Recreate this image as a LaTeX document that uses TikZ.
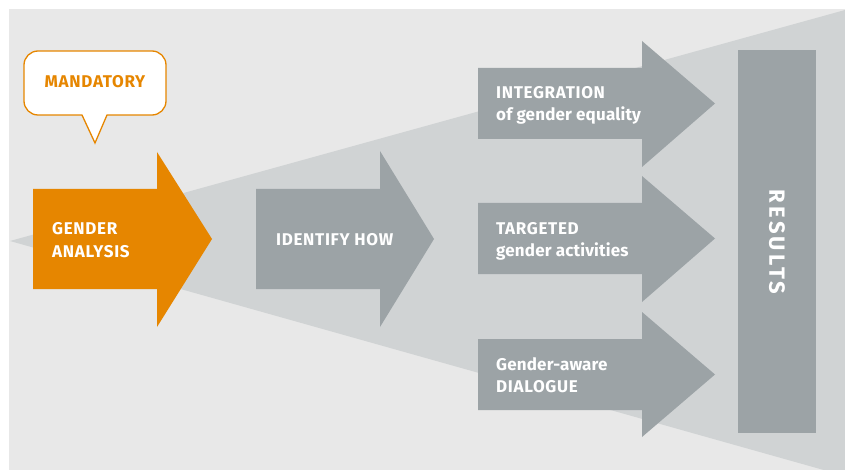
\documentclass[tikz,border=0pt]{standalone}
\usepackage{fontspec}
\setmainfont{Fira Sans}
\definecolor{bggrey}{HTML}{E8E8E8}
\definecolor{conegrey}{HTML}{D0D3D4}
\definecolor{arrowgrey}{HTML}{9CA3A6}
\definecolor{orangec}{HTML}{E68600}
\tikzset{
  lbl/.style={inner sep=0pt, anchor=base west, text=white, font=\fontsize{17}{20}\selectfont\bfseries\addfontfeatures{LetterSpace=4}},
  lowlbl/.style={lbl, font=\fontsize{17}{20}\selectfont\bfseries\addfontfeatures{LetterSpace=1}},
}
\begin{document}
\begin{tikzpicture}[x=1pt,y=-1pt]
\useasboundingbox (0,0) rectangle (845,470);
% background
\fill[bggrey] (9,9) rectangle (845,470);
\begin{scope}
\clip (9,9) rectangle (845,470);
\fill[conegrey] (10,241) -- (845,10) -- (845,476) -- cycle;
\end{scope}
% orange arrow
\fill[orangec] (33,189) -- (157,189) -- (157,152) -- (212,239) -- (157,327) -- (157,289) -- (33,289) -- cycle;
% identify arrow
\fill[arrowgrey] (256,189) -- (380,189) -- (380,151) -- (434,239) -- (380,327) -- (380,289) -- (256,289) -- cycle;
% right arrows
\fill[arrowgrey] (478,68) -- (642,68) -- (642,41) -- (715,103.5) -- (642,167) -- (642,139) -- (478,139) -- cycle;
\fill[arrowgrey] (478,203) -- (642,203) -- (642,176) -- (715,238.5) -- (642,302) -- (642,274) -- (478,274) -- cycle;
\fill[arrowgrey] (478,339) -- (642,339) -- (642,312) -- (715,374.5) -- (642,437) -- (642,410) -- (478,410) -- cycle;
% results
\fill[arrowgrey] (738,50) rectangle (816,433);
% bubble
\draw[fill=white, draw=orangec, line width=1.3pt, line join=miter]
  (95,143) -- (82,115) -- (60,115) [rounded corners=14]-- (24,115) -- (24,51) -- (166,51) -- (166,115) -- (130,115) [sharp corners]-- (107,115) -- cycle;
% texts
\node[lbl, anchor=base, text=orangec] (mand) at (95,88) {MANDATORY};
\node[lbl] (ga1) at (52,235) {GENDER};
\node[lbl] (ga2) at (52,257) {ANALYSIS};
\node[lbl] (idh) at (276,246) {IDENTIFY HOW};
\node[lbl] (in1) at (496,99) {INTEGRATION};
\node[lowlbl] (in2) at (496,121) {of gender equality};
\node[lbl] (ta1) at (496,235) {TARGETED};
\node[lowlbl] (ta2) at (496,256) {gender activities};
\node[lowlbl] (di1) at (496,370) {Gender-aware};
\node[lbl] (di2) at (496,392) {DIALOGUE};
\node[lbl, anchor=center, rotate=-90, font=\fontsize{22}{24}\selectfont\bfseries\addfontfeatures{LetterSpace=15}] (res) at (777,242) {RESULTS};
\end{tikzpicture}
\end{document}
